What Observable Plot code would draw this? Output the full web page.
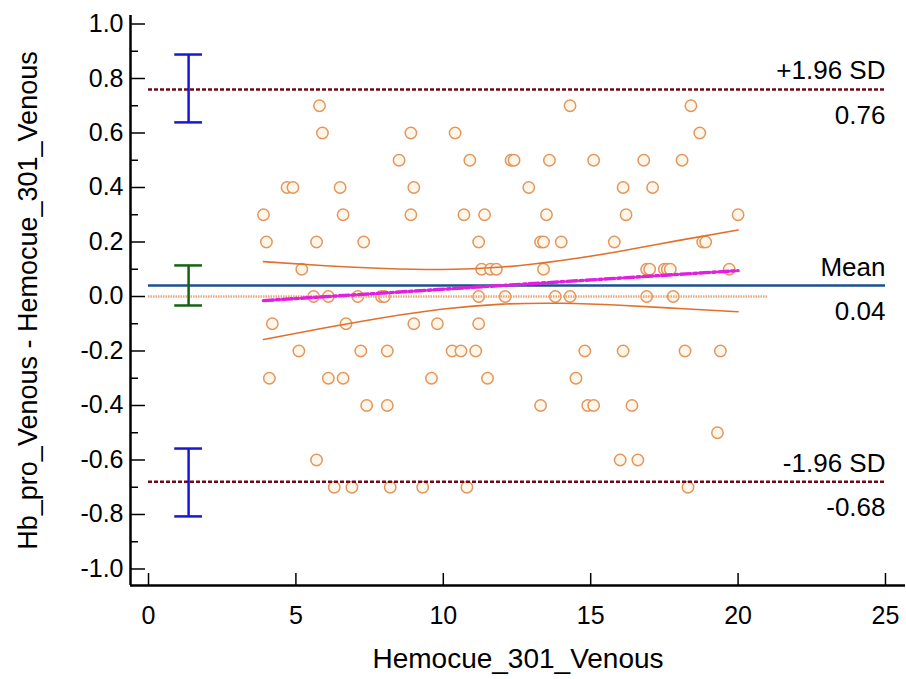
<!DOCTYPE html>
<html>
<head>
<meta charset="utf-8">
<script src="https://cdn.jsdelivr.net/npm/d3@7"></script>
<script src="https://cdn.jsdelivr.net/npm/@observablehq/plot@0.6"></script>
<style>
  html, body { margin: 0; padding: 0; background: #ffffff; }
  #chart svg { display: block; }
</style>
</head>
<body>
<div id="chart"></div>
<script>
// ---------- data ----------
const diffLevels = [0.7, 0.6, 0.5, 0.4, 0.3, 0.2, 0.1, 0.0, -0.1, -0.2, -0.3, -0.4, -0.5, -0.6, -0.7];
const hemocueByLevel = [
  [5.8, 14.3, 18.4],
  [5.9, 8.9, 10.4, 18.7],
  [8.5, 10.9, 12.3, 12.4, 13.6, 15.1, 16.8, 18.1],
  [4.7, 4.9, 6.5, 9.0, 12.9, 16.1, 17.1],
  [3.9, 6.6, 8.9, 10.7, 11.4, 13.5, 16.2, 20.0],
  [4.0, 5.7, 7.3, 11.2, 13.3, 13.4, 14.0, 15.8, 18.8, 18.9],
  [5.2, 11.3, 11.6, 11.8, 13.4, 16.9, 17.0, 17.5, 17.6, 17.7, 19.7],
  [5.6, 6.1, 7.1, 7.9, 8.0, 11.2, 12.1, 13.8, 14.3, 16.9, 17.8],
  [4.2, 6.7, 9.0, 9.8, 11.2],
  [5.1, 7.2, 8.1, 10.3, 10.6, 11.1, 14.8, 16.1, 18.2, 19.4],
  [4.1, 6.1, 6.6, 9.6, 11.5, 14.5],
  [7.4, 8.1, 13.3, 14.9, 15.1, 16.4],
  [19.3],
  [5.7, 16.0, 16.6],
  [6.3, 6.9, 8.2, 9.3, 10.8, 18.3]
];

const meanDiff = 0.04;
const upperLoA = 0.76;
const lowerLoA = -0.68;
const limitLabels = [
  {v: upperLoA, name: "+1.96 SD", value: "0.76"},
  {v: meanDiff, name: "Mean", value: "0.04"},
  {v: lowerLoA, name: "-1.96 SD", value: "-0.68"}
];

// confidence intervals of the limits and of the mean
const ciX = 1.36;
const capHalf = 0.47;
const ciBars = [
  {lo: 0.639, hi: 0.888, color: "#1717d6"},
  {lo: -0.033, hi: 0.114, color: "#146214"},
  {lo: -0.807, hi: -0.558, color: "#1717d6"}
];

// regression line of differences and its confidence band
const regX = [3.9, 20.0];
const regY = [-0.015, 0.095];
const bandX = [3.9, 6, 8, 10, 12, 14, 16, 18, 20];
const bandUpper = [0.128, 0.113, 0.103, 0.099, 0.108, 0.132, 0.166, 0.206, 0.244];
const bandLower = [-0.158, -0.115, -0.077, -0.046, -0.028, -0.025, -0.032, -0.044, -0.056];

// line of equality extent, limit line extent
const zeroExtent = [0, 21];
const lineExtent = [0, 25];

// axes
const xTicks = [0, 5, 10, 15, 20, 25];
const yMajor = [-1.0, -0.8, -0.6, -0.4, -0.2, 0.0, 0.2, 0.4, 0.6, 0.8, 1.0];
const yMinor = [-0.9, -0.7, -0.5, -0.3, -0.1, 0.1, 0.3, 0.5, 0.7, 0.9];
const xDomain = [-0.611, 25.679];
const yDomain = [-1.0606, 1.0312];
const xTitle = "Hemocue_301_Venous";
const yTitle = "Hb_pro_Venous - Hemocue_301_Venous";

// ---------- build tables ----------
const points = diffLevels.flatMap((d, i) => hemocueByLevel[i].map(x => ({x, d})));
const reg = regX.map((x, i) => ({x, y: regY[i]}));
const upper = bandX.map((x, i) => ({x, y: bandUpper[i]}));
const lower = bandX.map((x, i) => ({x, y: bandLower[i]}));
const caps = ciBars.flatMap(b => [{v: b.lo, color: b.color}, {v: b.hi, color: b.color}]);

const font = "'Liberation Sans', Arial, Helvetica, sans-serif";

const chart = Plot.plot({
  width: 906,
  height: 679,
  marginLeft: 130,
  marginRight: 1,
  marginTop: 15,
  marginBottom: 94,
  x: {domain: xDomain, label: null},
  y: {domain: yDomain, label: null},
  color: {type: "identity"},
  style: {fontFamily: font, background: "#ffffff", color: "#000000"},
  marks: [
    // axis lines
    Plot.ruleY([yDomain[0]], {stroke: "#000", strokeWidth: 2.5}),
    Plot.ruleX([xDomain[0]], {stroke: "#000", strokeWidth: 2.5}),
    // y ticks (inside)
    Plot.axisY(yMajor, {tickSize: 15, dx: 15, tickFormat: () => "", label: null, strokeWidth: 1.5}),
    Plot.axisY(yMinor, {tickSize: 8, dx: 8, tickFormat: () => "", label: null, strokeWidth: 1.5}),
    Plot.axisY(yMajor, {tickSize: 0, tickPadding: 7, tickFormat: d => d.toFixed(1), label: null, fontSize: 25}),
    // x ticks (inside)
    Plot.axisX(xTicks, {tickSize: 12, dy: -12, tickFormat: () => "", label: null, strokeWidth: 1.5}),
    Plot.axisX(xTicks, {tickSize: 0, tickPadding: 21, tickFormat: d => String(d), label: null, fontSize: 25}),
    // axis titles
    Plot.text([xTitle], {frameAnchor: "bottom", lineAnchor: "top", textAnchor: "middle", dy: 63, text: d => d, fontSize: 28}),
    Plot.text([yTitle], {frameAnchor: "left", lineAnchor: "bottom", textAnchor: "middle", rotate: -90, dx: -94, text: d => d, fontSize: 27}),

    // scatter points
    Plot.dot(points, {x: "x", y: "d", r: 5.7, stroke: "#e3965c", fill: "#fff6ea", strokeWidth: 1.5}),

    // line of equality (zero)
    Plot.ruleY([0], {x1: zeroExtent[0], x2: zeroExtent[1], stroke: "#f3a475", strokeWidth: 2.5, strokeDasharray: "1.5,1"}),
    // mean line
    Plot.ruleY([meanDiff], {x1: lineExtent[0], x2: lineExtent[1], stroke: "#1b4f8d", strokeWidth: 2.5}),
    // limits of agreement
    Plot.ruleY([upperLoA, lowerLoA], {x1: lineExtent[0], x2: lineExtent[1], stroke: "#6e0a1c", strokeWidth: 2.5, strokeDasharray: "4,2"}),

    // regression band and line
    Plot.line(upper, {x: "x", y: "y", curve: "natural", stroke: "#e2702c", strokeWidth: 1.6}),
    Plot.line(lower, {x: "x", y: "y", curve: "natural", stroke: "#e2702c", strokeWidth: 1.6}),
    Plot.line(reg, {x: "x", y: "y", stroke: "#e31ee3", strokeWidth: 3.4, strokeDasharray: "10,3,3,3"}),

    // CI error bars
    Plot.ruleX(ciBars, {x: ciX, y1: "lo", y2: "hi", stroke: "color", strokeWidth: 2.5}),
    Plot.ruleY(caps, {y: "v", x1: ciX - capHalf, x2: ciX + capHalf, stroke: "color", strokeWidth: 2.5}),

    // right-side labels
    Plot.text(limitLabels, {x: lineExtent[1], y: "v", text: "name", textAnchor: "end", lineAnchor: "bottom", dy: -10, fontSize: 26}),
    Plot.text(limitLabels, {x: lineExtent[1], y: "v", text: "value", textAnchor: "end", lineAnchor: "top", dy: 16, fontSize: 26})
  ]
});

document.getElementById("chart").appendChild(chart);
</script>
</body>
</html>
